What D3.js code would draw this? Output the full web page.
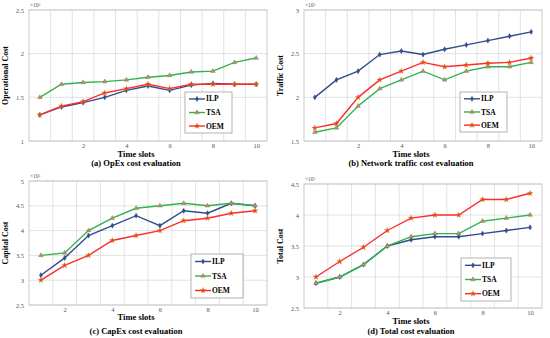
<!DOCTYPE html>
<html>
<head>
<meta charset="utf-8">
<script src="https://cdn.jsdelivr.net/npm/d3@7"></script>
<style>
  body { margin: 0; background: #fff; }
  svg { display: block; }
</style>
</head>
<body>
<div id="chart"></div>
<script>
// values (in units of 10^5)
var xsA = [0, 1, 2, 3, 4, 5, 6, 7, 8, 9, 10];
var xsC = [1, 2, 3, 4, 5, 6, 7, 8, 9, 10];
var xTicks = [2, 4, 6, 8, 10];
var seriesNames = ["ILP", "TSA", "OEM"];

var opexILP = [1.30, 1.39, 1.44, 1.50, 1.58, 1.63, 1.58, 1.64, 1.66, 1.65, 1.65];
var opexTSA = [1.50, 1.65, 1.67, 1.68, 1.70, 1.73, 1.75, 1.79, 1.80, 1.90, 1.95];
var opexOEM = [1.30, 1.40, 1.45, 1.55, 1.60, 1.65, 1.60, 1.65, 1.65, 1.65, 1.65];
var opexTicks = [1, 1.5, 2, 2.5];

var trafILP = [2.00, 2.20, 2.30, 2.49, 2.53, 2.49, 2.55, 2.60, 2.65, 2.70, 2.75];
var trafTSA = [1.60, 1.65, 1.90, 2.10, 2.20, 2.30, 2.20, 2.30, 2.35, 2.35, 2.40];
var trafOEM = [1.65, 1.70, 2.00, 2.20, 2.30, 2.40, 2.35, 2.37, 2.39, 2.40, 2.45];
var trafTicks = [1.5, 2, 2.5, 3];

var capexILP = [3.10, 3.45, 3.90, 4.10, 4.30, 4.10, 4.40, 4.35, 4.55, 4.50];
var capexTSA = [3.50, 3.55, 4.00, 4.25, 4.45, 4.50, 4.55, 4.50, 4.55, 4.50];
var capexOEM = [3.00, 3.30, 3.50, 3.80, 3.90, 4.00, 4.20, 4.25, 4.35, 4.40];
var capexTicks = [2.5, 3, 3.5, 4, 4.5, 5];

var totalILP = [2.90, 3.00, 3.20, 3.50, 3.60, 3.65, 3.65, 3.70, 3.75, 3.80];
var totalTSA = [2.90, 3.00, 3.20, 3.50, 3.65, 3.70, 3.70, 3.90, 3.95, 4.00];
var totalOEM = [3.00, 3.25, 3.48, 3.75, 3.95, 4.00, 4.00, 4.25, 4.25, 4.35];
var totalTicks = [2.5, 3, 3.5, 4, 4.5];

var W = 550, H = 338;
var serif = "'Liberation Serif', 'DejaVu Serif', serif";
var colors = { ILP: "#2f4d8c", TSA: "#2fb34e", OEM: "#ff2b2b" };

var svg = d3.select("#chart").append("svg").attr("width", W).attr("height", H);

var panels = [
  { xs: xsA, data: [opexILP, opexTSA, opexOEM], ticks: opexTicks, xd: [-0.5, 10.5],
    box: [29, 267, 10, 141], ytitle: "Operational Cost", xt: 157, cap: 166,
    caption: "(a) OpEx cost evaluation", leg: [185, 92, 47, 41] },
  { xs: xsA, data: [trafILP, trafTSA, trafOEM], ticks: trafTicks, xd: [-0.5, 10.5],
    box: [304, 542, 10, 141], ytitle: "Traffic Cost", xt: 157, cap: 166,
    caption: "(b) Network traffic cost evaluation", leg: [460, 92, 47, 40] },
  { xs: xsC, data: [capexILP, capexTSA, capexOEM], ticks: capexTicks, xd: [0.5, 10.5],
    box: [29, 267, 181, 305], ytitle: "Capital Cost", xt: 320, cap: 334,
    caption: "(c) CapEx cost evaluation", leg: [191, 254, 52, 44] },
  { xs: xsC, data: [totalILP, totalTSA, totalOEM], ticks: totalTicks, xd: [0.5, 10.5],
    box: [304, 542, 184, 308], ytitle: "Total Cost", xt: 324, cap: 334,
    caption: "(d) Total cost evaluation", leg: [461, 258, 50, 43] }
];

panels.forEach(function(p) {
  var L = p.box[0], R = p.box[1], T = p.box[2], B = p.box[3];
  var x = d3.scaleLinear().domain(p.xd).range([L, R]);
  var y = d3.scaleLinear().domain(d3.extent(p.ticks)).range([B, T]);
  var g = svg.append("g");

  // grid: horizontal at ticks, vertical at category boundaries
  g.selectAll(".hg").data(p.ticks).enter().append("line")
    .attr("x1", L).attr("x2", R).attr("y1", y).attr("y2", y)
    .attr("stroke", "#dadada").attr("stroke-width", 0.8);
  var bounds = d3.range(Math.ceil(p.xd[0]) + 0.5, p.xd[1], 1);
  g.selectAll(".vg").data(bounds).enter().append("line")
    .attr("x1", x).attr("x2", x).attr("y1", T).attr("y2", B)
    .attr("stroke", "#dadada").attr("stroke-width", 0.8);
  g.append("rect").attr("x", L).attr("y", T).attr("width", R - L).attr("height", B - T)
    .attr("fill", "none").attr("stroke", "#bdbdbd").attr("stroke-width", 0.8);

  // axes
  var yAxis = g.append("g").attr("transform", "translate(" + L + ",0)")
    .call(d3.axisLeft(y).tickValues(p.ticks).tickSize(0).tickPadding(5).tickFormat(d3.format("~g")));
  var xAxis = g.append("g").attr("transform", "translate(0," + B + ")")
    .call(d3.axisBottom(x).tickValues(xTicks).tickSize(0).tickPadding(2));
  [yAxis, xAxis].forEach(function(a) {
    a.select(".domain").remove();
    a.selectAll("text").attr("font-family", serif).attr("font-size", 6.5).attr("fill", "#555");
  });

  g.append("text").attr("x", L + 1).attr("y", T - 3)
    .attr("font-family", serif).attr("font-size", 5.5).attr("fill", "#555")
    .text("×10⁵");

  g.append("text")
    .attr("transform", "translate(" + (L - 21) + "," + ((T + B) / 2) + ") rotate(-90)")
    .attr("text-anchor", "middle").attr("font-family", serif).attr("font-weight", "bold")
    .attr("font-size", 8).text(p.ytitle);

  g.append("text").attr("x", (L + R) / 2 - 12).attr("y", p.xt)
    .attr("text-anchor", "middle").attr("font-family", serif).attr("font-weight", "bold")
    .attr("font-size", 8.5).text("Time slots");
  g.append("text").attr("x", (L + R) / 2 - 12).attr("y", p.cap)
    .attr("text-anchor", "middle").attr("font-family", serif).attr("font-weight", "bold")
    .attr("font-size", 8.5).text(p.caption);

  // series
  p.data.forEach(function(vals, i) {
    var name = seriesNames[i];
    var pts = vals.map(function(v, j) { return [p.xs[j], v]; });
    g.append("path").datum(pts)
      .attr("fill", "none").attr("stroke", colors[name]).attr("stroke-width", 1.4)
      .attr("d", d3.line().x(function(d) { return x(d[0]); }).y(function(d) { return y(d[1]); }));
    drawMarkers(g, name, pts.map(function(d) { return [x(d[0]), y(d[1])]; }));
  });

  // legend
  var lx = p.leg[0], ly = p.leg[1], lw = p.leg[2], lh = p.leg[3];
  g.append("rect").attr("x", lx).attr("y", ly).attr("width", lw).attr("height", lh)
    .attr("fill", "#fff").attr("stroke", "#a0a0a0").attr("stroke-width", 0.8);
  seriesNames.forEach(function(name, i) {
    var yy = ly + lh * (0.17 + 0.33 * i);
    g.append("line").attr("x1", lx + 4).attr("x2", lx + 20).attr("y1", yy).attr("y2", yy)
      .attr("stroke", colors[name]).attr("stroke-width", 1.4);
    drawMarkers(g, name, [[lx + 12, yy]]);
    g.append("text").attr("x", lx + 21).attr("y", yy + 2.5)
      .attr("font-family", serif).attr("font-weight", "bold").attr("font-size", 7.5)
      .text(name);
  });
});

function drawMarkers(g, name, pts) {
  var sym, fill, stroke, size;
  if (name === "ILP") { sym = d3.symbolDiamond; fill = "#2f4d8c"; stroke = "#2f4d8c"; size = 8; }
  else if (name === "TSA") { sym = d3.symbolTriangle; fill = "#e07a6c"; stroke = "#3c9a3c"; size = 9; }
  else { sym = d3.symbolStar; fill = "#ff2b2b"; stroke = "#b8a020"; size = 10; }
  g.selectAll(null).data(pts).enter().append("path")
    .attr("transform", function(d) { return "translate(" + d[0] + "," + d[1] + ")"; })
    .attr("d", d3.symbol().type(sym).size(size))
    .attr("fill", fill).attr("stroke", stroke).attr("stroke-width", 0.4);
}
</script>
</body>
</html>
